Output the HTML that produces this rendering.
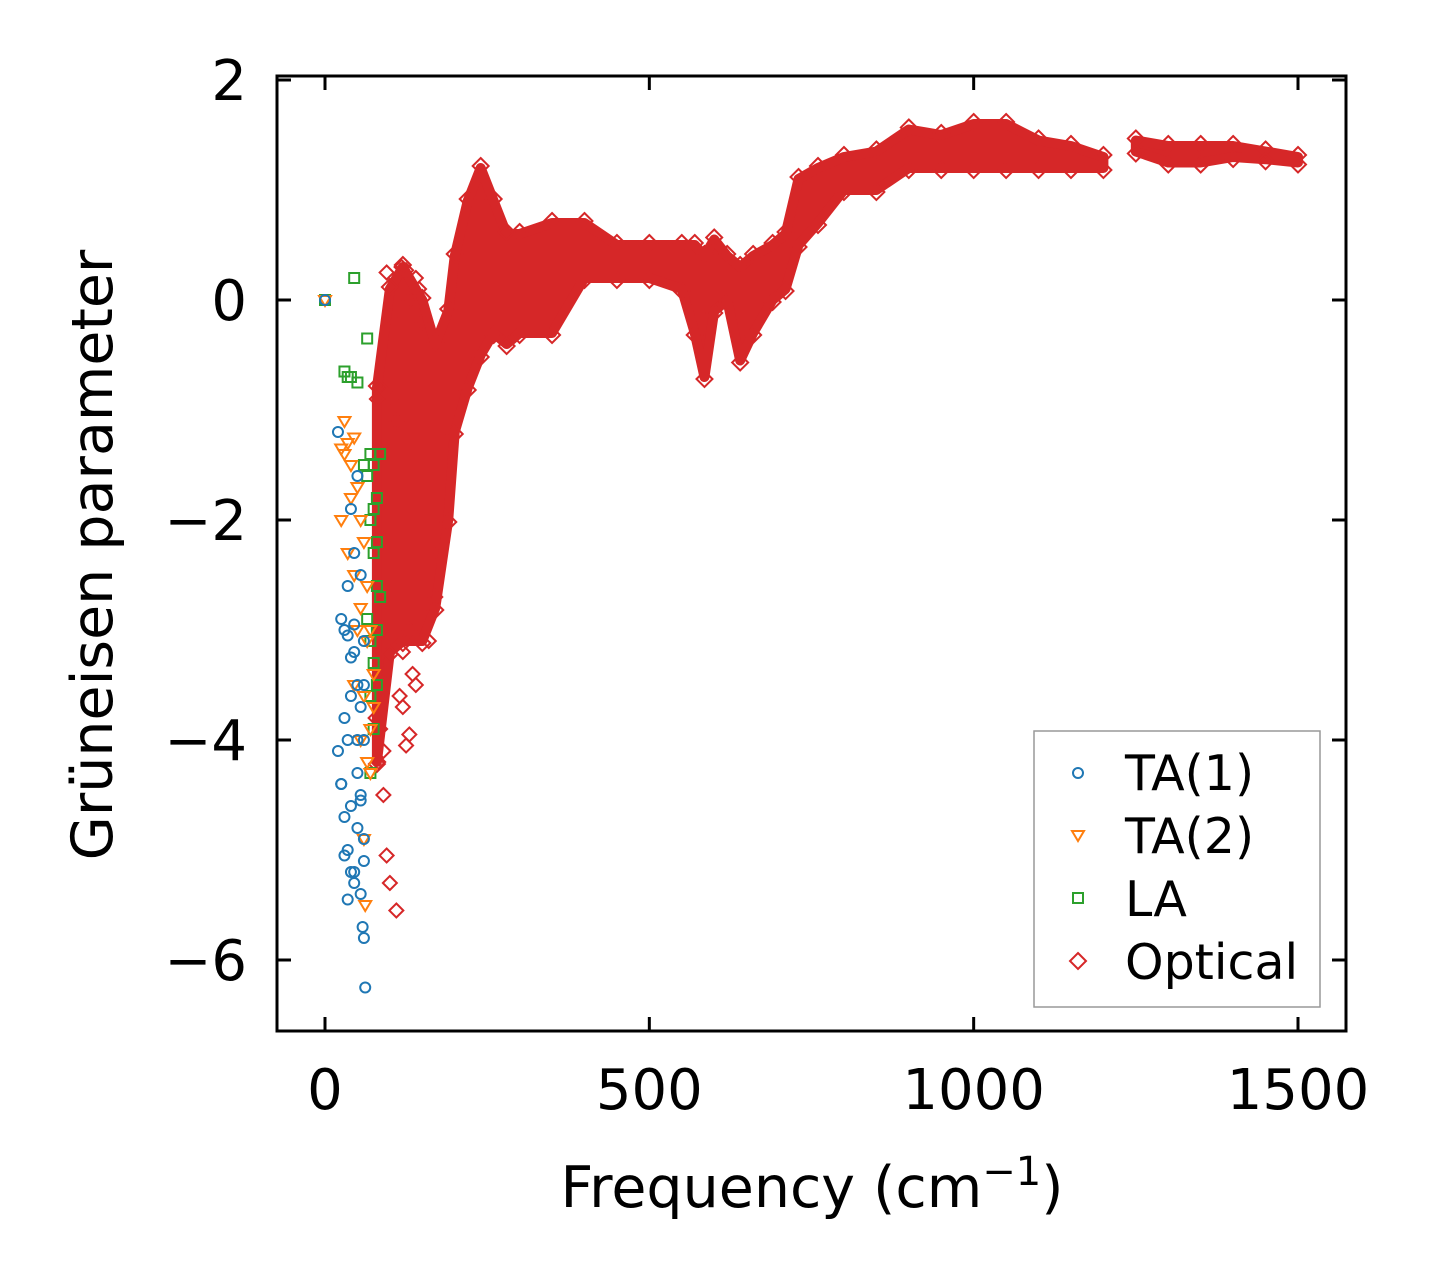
<!DOCTYPE html>
<html><head><meta charset="utf-8"><style>
body{margin:0;background:#fff}
svg{display:block;font-family:"DejaVu Sans","Liberation Sans",sans-serif}
</style></head><body>
<svg id="chart" width="1430" height="1281" viewBox="0 0 1430 1281" xmlns="http://www.w3.org/2000/svg">
<g id="marks"></g>
<g id="axes"></g>
</svg>
<script>
const xTicks=[0,500,1000,1500];
const yTicks=[2,0,-2,-4,-6];
const yTickLabels=["2","0","\u22122","\u22124","\u22126"];
const optFreqA=[80,100,120,150,170,190,200,220,240,260,280,300,350,400,450,500,550,570,585,600,620,640,660,690,710,730,760,800,850,900,950,1000,1050,1100,1150,1200];
const optUpperA=[-0.8,0.1,0.3,0.0,-0.4,-0.1,0.4,0.9,1.2,0.9,0.6,0.6,0.7,0.7,0.5,0.5,0.5,0.5,0.4,0.55,0.4,0.3,0.4,0.5,0.6,1.1,1.2,1.3,1.35,1.55,1.5,1.6,1.6,1.45,1.4,1.3];
const optLowerA=[-4.2,-3.2,-3.1,-3.1,-2.8,-2.0,-1.2,-0.8,-0.5,-0.3,-0.4,-0.3,-0.3,0.2,0.2,0.2,0.1,-0.3,-0.7,-0.1,0.0,-0.55,-0.3,0.0,0.1,0.5,0.7,1.0,1.0,1.2,1.2,1.2,1.2,1.2,1.2,1.2];
const optFreqB=[1250,1300,1350,1400,1450,1500];
const optUpperB=[1.45,1.4,1.4,1.4,1.35,1.3];
const optLowerB=[1.35,1.25,1.25,1.3,1.28,1.25];
const optOutF=[95,100,105,110,115,120,125,130,135,140,90,95,100,110,120,130,85,90,85,80,82,78,86,118,125,130,140,145,150,160,170,175];
const optOutG=[0.25,-0.15,-0.9,-1.1,-3.6,-3.7,-4.05,-3.95,-3.4,-3.5,-4.5,-5.05,-5.3,-5.55,-3.2,-3.0,-3.9,-4.1,-0.8,-0.9,-4.2,-3.8,-3.0,0.3,0.27,0.0,0.2,0.1,-0.2,-3.1,-2.7,-2.3];
const ta1F=[0,20,25,30,35,40,45,50,55,60,30,35,40,45,50,55,60,25,30,35,40,45,50,55,60,20,25,30,35,40,45,50,55,60,35,40,45,50,55,60,58,60,62];
const ta1G=[0,-1.2,-2.9,-3.0,-2.6,-1.9,-2.3,-1.6,-2.5,-3.1,-3.8,-4.0,-3.6,-3.2,-3.5,-3.7,-4.0,-4.4,-4.7,-5.0,-4.6,-5.2,-4.3,-4.5,-4.9,-4.1,-4.4,-5.05,-5.45,-5.2,-5.3,-4.8,-5.4,-5.1,-3.05,-3.25,-2.95,-4.0,-4.55,-3.5,-5.7,-5.8,-6.25];
const ta2F=[0,25,30,35,40,45,50,55,60,65,70,25,35,45,55,65,75,30,40,50,60,70,45,55,65,75,60,70,62];
const ta2G=[0,-1.35,-1.1,-1.3,-1.5,-1.25,-1.7,-2.0,-2.2,-2.6,-3.0,-2.0,-2.3,-2.5,-2.8,-3.1,-3.4,-1.4,-1.8,-3.0,-3.6,-3.9,-3.5,-4.0,-4.2,-3.7,-4.9,-4.3,-5.5];
const laF=[0,45,65,30,35,40,50,60,65,70,75,80,85,70,75,80,85,65,70,75,80,70,75,80,80,70,75];
const laG=[0,0.2,-0.35,-0.65,-0.7,-0.7,-0.75,-1.5,-1.6,-1.4,-1.5,-1.8,-1.4,-2.0,-2.3,-2.6,-2.7,-2.9,-3.1,-3.3,-3.0,-3.6,-3.9,-3.5,-2.2,-4.3,-1.9];

const X0=277,X1=1346,Y0=76,Y1=1031;
function xs(v){return 325+v*(1298-325)/1500;}
function ys(v){return 300-v*110;}
const NS="http://www.w3.org/2000/svg";
const marks=document.getElementById('marks'),axes=document.getElementById('axes');
function mk(tag,attrs,parent){const e=document.createElementNS(NS,tag);for(const k in attrs)e.setAttribute(k,attrs[k]);parent.appendChild(e);return e;}
const RED="#d62728",BLUE="#1f77b4",ORANGE="#ff7f0e",GREEN="#2ca02c";
function diamond(cx,cy,r,parent){return mk('polygon',{points:`${cx},${cy-r} ${cx+r},${cy} ${cx},${cy+r} ${cx-r},${cy}`,fill:'none',stroke:RED,'stroke-width':2},parent);}
function band(F,U,L,name){
  let pts=[];
  for(let i=0;i<F.length;i++)pts.push(xs(F[i])+','+ys(U[i]));
  for(let i=F.length-1;i>=0;i--)pts.push(xs(F[i])+','+ys(L[i]));
  const p=mk('polygon',{points:pts.join(' '),fill:RED,stroke:RED,'stroke-width':10,'stroke-linejoin':'round'},marks);
  
  
  for(let i=0;i<F.length;i++){
    const d1=diamond(xs(F[i]),ys(U[i])-2,8,marks);
    
    
    const d2=diamond(xs(F[i]),ys(L[i])+2,8,marks);
    
    
  }
}
band(optFreqA,optUpperA,optLowerA,'optical-band-low');
band(optFreqB,optUpperB,optLowerB,'optical-band-high');
for(let i=0;i<optOutF.length;i++){
  const d=diamond(xs(optOutF[i]),ys(optOutG[i]),7,marks);
  
  
}
for(let i=0;i<laF.length;i++){
  const x=xs(laF[i]),y=ys(laG[i]);
  const r=mk('rect',{x:x-5,y:y-5,width:10,height:10,fill:'none',stroke:GREEN,'stroke-width':2},marks);
  
  
}
for(let i=0;i<ta2F.length;i++){
  const x=xs(ta2F[i]),y=ys(ta2G[i]);
  const t=mk('polygon',{points:`${x-6},${y-4} ${x+6},${y-4} ${x},${y+6}`,fill:'none',stroke:ORANGE,'stroke-width':2},marks);
  
  
}
for(let i=0;i<ta1F.length;i++){
  const c=mk('circle',{cx:xs(ta1F[i]),cy:ys(ta1G[i]),r:5,fill:'none',stroke:BLUE,'stroke-width':2},marks);
  
  
}
const fr=mk('rect',{x:X0,y:Y0,width:X1-X0,height:Y1-Y0,fill:'none',stroke:'#000','stroke-width':3},axes);


xTicks.forEach(v=>{
  const x=xs(v);
  mk('line',{x1:x,y1:Y1,x2:x,y2:Y1-14,stroke:'#000','stroke-width':3},axes);
  mk('line',{x1:x,y1:Y0,x2:x,y2:Y0+14,stroke:'#000','stroke-width':3},axes);
  const t=mk('text',{x:x,y:1109,'text-anchor':'middle','font-size':56},axes);
  t.textContent=String(v);
  
  
});
yTicks.forEach((v,i)=>{
  const y=ys(v);
  mk('line',{x1:X0,y1:y,x2:X0+14,y2:y,stroke:'#000','stroke-width':3},axes);
  mk('line',{x1:X1,y1:y,x2:X1-14,y2:y,stroke:'#000','stroke-width':3},axes);
  const t=mk('text',{x:247,y:y+20,'text-anchor':'end','font-size':56},axes);
  t.textContent=yTickLabels[i];
  
  
});
</script>
<svg style="position:absolute;left:0;top:0" width="1430" height="1281" xmlns="http://www.w3.org/2000/svg">
<text x="812" y="1207" text-anchor="middle" font-size="57" font-family="DejaVu Sans,Liberation Sans,sans-serif">Frequency (cm<tspan font-size="40" dy="-22">−1</tspan><tspan dy="22">)</tspan></text>
<text transform="translate(112,555) rotate(-90)" text-anchor="middle" font-size="57" font-family="DejaVu Sans,Liberation Sans,sans-serif">Grüneisen parameter</text>
<g font-family="DejaVu Sans,Liberation Sans,sans-serif" font-size="49">
<rect x="1034" y="731" width="286" height="276" fill="#fff" stroke="#999" stroke-width="1.5"/>
<g><circle cx="1078" cy="773" r="5" fill="none" stroke="#1f77b4" stroke-width="2"/><text x="1125" y="790">TA(1)</text></g>
<g><polygon points="1072,831 1084,831 1078,841" fill="none" stroke="#ff7f0e" stroke-width="2"/><text x="1125" y="853">TA(2)</text></g>
<g><rect x="1073" y="893" width="10" height="10" fill="none" stroke="#2ca02c" stroke-width="2"/><text x="1125" y="916">LA</text></g>
<g><polygon points="1078,953 1086,961 1078,969 1070,961" fill="none" stroke="#d62728" stroke-width="2"/><text x="1125" y="979">Optical</text></g>
</g>
</svg>
</body></html>
